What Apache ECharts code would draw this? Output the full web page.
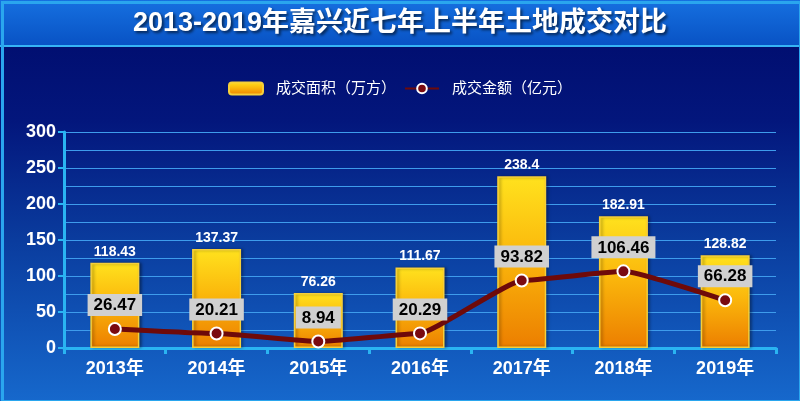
<!DOCTYPE html>
<html>
<head>
<meta charset="utf-8">
<title></title>
<script type="text/javascript" src="https://cdn.jsdelivr.net/npm/echarts@6/dist/echarts.min.js"></script>
<style>
html, body { margin: 0; padding: 0; background: #000a6e; }
</style>
</head>
<body>

<div id="main" style="width: 800px;height:401px;"></div>

<script type="text/javascript">

let YEARS = ['2013年', '2014年', '2015年', '2016年', '2017年', '2018年', '2019年'];
let AREA = [118.43, 137.37, 76.26, 111.67, 238.4, 182.91, 128.82];
let AMOUNT = [26.47, 20.21, 8.94, 20.29, 93.82, 106.46, 66.28];
let LEGEND = ['成交面积（万方）', '成交金额（亿元）'];
let TITLE = '2013-2019年嘉兴近七年上半年土地成交对比';

let FONT = '"Liberation Sans", Arial, "Noto Sans CJK SC", sans-serif';

var myChart = echarts.init(document.getElementById('main'));

var option = {
	backgroundColor: new echarts.graphic.LinearGradient(0, 0, 0, 1, [
		{ offset: 0, color: '#000a6a' },
		{ offset: 0.3, color: '#03167c' },
		{ offset: 0.6, color: '#0a3c9e' },
		{ offset: 1, color: '#1668cc' }
	]),
	textStyle: { fontFamily: FONT },
	graphic: [
		{
			type: 'rect', left: 0, top: 0, z: -1,
			shape: { width: 800, height: 46 },
			style: { fill: new echarts.graphic.LinearGradient(0, 0, 0, 1, [
				{ offset: 0, color: '#1670e0' },
				{ offset: 1, color: '#0852c4' }
			]) }
		},
		{
			type: 'rect', left: 0, top: 45, z: 1,
			shape: { width: 800, height: 2 },
			style: { fill: '#36b4f4' }
		},
		{
			type: 'rect', left: 0, top: 0, z: 1,
			shape: { width: 798, height: 399 },
			style: { fill: 'none', stroke: '#2aa6ee', lineWidth: 3 }
		}
	],
	title: {
		text: TITLE,
		left: 'center',
		top: 5,
		textStyle: {
			color: '#ffffff',
			fontSize: 27,
			fontWeight: 'bold',
			fontFamily: FONT,
			textShadowColor: 'rgba(0,0,0,0.6)',
			textShadowBlur: 3,
			textShadowOffsetX: 2,
			textShadowOffsetY: 2
		}
	},
	legend: {
		top: 76,
		left: 'center',
		itemWidth: 34,
		itemHeight: 12,
		itemGap: 8,
		data: LEGEND,
		textStyle: { color: '#ffffff', fontSize: 15, padding: [0, 0, 0, 8] }
	},
	grid: { left: 64, right: 24, top: 132, bottom: 53 },
	xAxis: {
		type: 'category',
		data: YEARS,
		axisLine: { lineStyle: { color: '#2ab4f2', width: 3 } },
		axisTick: { show: true, length: 6, lineStyle: { color: '#2ab4f2', width: 3 } },
		axisLabel: { color: '#ffffff', fontSize: 18, fontWeight: 'bold', margin: 12 }
	},
	yAxis: {
		type: 'value',
		min: 0,
		max: 300,
		interval: 50,
		axisLine: { show: true, lineStyle: { color: '#2ab4f2', width: 3 } },
		axisTick: { show: true, length: 6, lineStyle: { color: '#2ab4f2', width: 2 } },
		axisLabel: { color: '#ffffff', fontSize: 18, fontWeight: 'bold', margin: 8 },
		splitLine: { lineStyle: { color: '#3e9cec', width: 1 } },
		minorTick: { show: false, splitNumber: 2 },
		minorSplitLine: { show: true, lineStyle: { color: '#3e9cec', width: 1 } }
	},
	series: [
		{
			name: LEGEND[0],
			type: 'bar',
			data: AREA,
			barWidth: 49,
			itemStyle: {
				color: new echarts.graphic.LinearGradient(0, 0, 0, 1, [
					{ offset: 0, color: '#ffe21e' },
					{ offset: 0.45, color: '#fbb80c' },
					{ offset: 1, color: '#ec7e00' }
				]),
				borderColor: '#f6cf3a',
				borderWidth: 1.5,
				shadowColor: 'rgba(0,0,0,0.35)',
				shadowBlur: 3,
				shadowOffsetX: 2,
				shadowOffsetY: 0
			},
			label: {
				show: true,
				position: 'top',
				distance: 4,
				color: '#ffffff',
				fontSize: 14,
				fontWeight: 'bold'
			}
		},
		{
			name: LEGEND[1],
			type: 'line',
			data: AMOUNT,
			smooth: 0.12,
			smoothMonotone: 'x',
			symbol: 'circle',
			symbolSize: 12,
			lineStyle: { color: '#6e0a0a', width: 5 },
			itemStyle: { color: '#7a0a10', borderColor: '#ffffff', borderWidth: 2 },
			label: {
				show: true,
				position: 'top',
				distance: 6,
				color: '#000000',
				fontSize: 17,
				fontWeight: 'bold',
				backgroundColor: '#d0d0d0',
				padding: [3, 6, 2, 6]
			},
			z: 3
		}
	]
};

myChart.setOption(option);

</script>

</body>
</html>
